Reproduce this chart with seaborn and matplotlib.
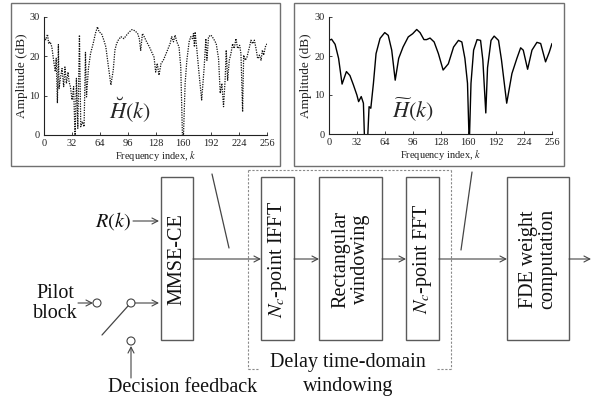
import matplotlib
matplotlib.use('Agg')
import matplotlib.pyplot as plt
import seaborn as sns
import pandas as pd
from matplotlib.patches import Rectangle, Circle

# ---------------- data ----------------
k_breve = [0, 2, 4, 5.4, 7, 9, 11.5, 13, 14, 15.4,
           16.5, 17.3, 18.8, 20.7, 22.6, 24, 25.7, 27.6, 28.8, 30.3,
           32.2, 34, 35.7, 37.2, 38.8, 40.7, 42.2, 44, 46, 47.6,
           48.8, 51, 53.4, 56.4, 59, 61.4, 63.3, 66, 68.7, 71,
           73.7, 76.8, 79.5, 81.4, 83.3, 85.2, 88.3, 91.7, 94.8, 97.9,
           101, 104.4, 107.5, 109.4, 111, 113, 115, 117.8, 121, 123.6,
           126.3, 128.2, 130, 132, 134.4, 137, 140.9, 144.7, 146.6, 148.6,
           150.5, 152.4, 155, 157, 159, 160, 162, 164, 166.6, 168.5,
           170.4, 171.6, 172.7, 173.5, 175.4, 178, 181, 183.9, 185.8, 187,
           188.9, 191.6, 194.6, 197.7, 200.4, 202.3, 204.2, 206.1, 208, 209.2,
           210.8, 212.7, 214.6, 216.5, 218.4, 220.3, 222.3, 224.6, 226.1, 228,
           229.2, 231.1, 233, 235.9, 237.6, 239.5, 241.5, 243.4, 245.3, 247.3,
           249.2, 250.7, 252.2, 254.1, 256]
db_breve = [25, 24.2, 25.6, 23.2, 23.7, 22.4, 18.2, 16.1, 19.5, 8.1,
            23, 11.8, 14.4, 16.9, 12.3, 17.3, 13.1, 16, 13.5, 12.3,
            8.9, 12.3, -1, 14.4, 1.7, 25.4, 2.1, 3.4, 2.1, 21,
            9.7, 16.9, 20.7, 23.2, 25.8, 27.5, 26.2, 25.8, 24.1, 22.4,
            17.8, 12.7, 16.5, 21.6, 23.2, 24.1, 25, 24.5, 25.4, 26.2,
            26.8, 26.5, 25.8, 24.5, 21.5, 25.8, 25, 23.7, 22.4, 21.1,
            19.8, 16, 18.2, 15.2, 18.2, 19, 21.1, 23.2, 25, 23.7,
            25.4, 23.7, 22.4, 17.3, -1, -1, 13.1, 19, 23.7, 25,
            24.5, 25.8, 22.4, 26.2, 21.9, 15.6, 8.9, 17.3, 24.5, 19,
            25, 25.4, 24.5, 23.2, 19.4, 10.6, 13.1, 7.2, 14.4, 21.6,
            13.9, 19, 20.7, 23.2, 22, 24.5, 22, 22.8, 20.7, 5.9,
            20.3, 19, 19.8, 22.4, 24.1, 23.2, 24.1, 22, 19.4, 20.3,
            19, 21.6, 20.3, 22.4, 23.2]

k_tilde = [0, 3, 7, 11, 15, 20, 24, 28, 32, 34,
           37, 39.5, 41, 44, 46, 48, 51, 54, 58.6, 64,
           68, 72, 76, 80, 85, 91, 96, 100.7, 104.5, 109,
           112, 116, 120.7, 125.6, 131, 137, 143, 148.6, 152.5, 156,
           159, 161, 163, 166, 170, 174, 176.6, 180, 182, 186,
           189.6, 194.6, 198, 204, 210, 215.7, 220, 223, 228, 233,
           238.7, 243, 248.6, 252.9, 256]
db_tilde = [24.0, 24.3, 23, 19.4, 12.8, 16, 15, 12.6, 10, 8.3,
            9.6, 7.9, -3, -3, 7, 6.6, 13, 20.6, 24.5, 26,
            25.3, 21.5, 13.8, 19.4, 22.3, 24.9, 25.7, 26.8, 26, 24.2,
            24.2, 24.6, 23.6, 20.6, 16.4, 18, 22.3, 24, 23.6, 19.4,
            13, -3, 13, 21.5, 24.2, 24, 19, 5.4, 17, 24,
            25.1, 24, 19, 7.9, 15.5, 19.4, 22.1, 21.5, 16.6, 21.5,
            23.5, 23.2, 18.5, 21, 23.2]

x_ticks = [0, 32, 64, 96, 128, 160, 192, 224, 256]
y_ticks = [0, 10, 20, 30]

# ---------------- style ----------------
sns.set_theme(style='white')
plt.rcParams['font.family'] = ['Liberation Serif', 'DejaVu Serif']
plt.rcParams['mathtext.fontset'] = 'stix'

W, H = 592, 397
fig = plt.figure(figsize=(W / 100, H / 100), dpi=100)
bg = fig.add_axes([0, 0, 1, 1])
bg.set_xlim(0, W)
bg.set_ylim(H, 0)
bg.axis('off')

LC = '#454545'
BC = '#5a5a5a'


def inset(x0, x1, y0, y1):
    return fig.add_axes([x0 / W, 1 - y1 / H, (x1 - x0) / W, (y1 - y0) / H])


def style_inset(ax):
    ax.set_xlim(0, 256)
    ax.set_ylim(0, 30)
    ax.set_xticks(x_ticks)
    ax.set_yticks(y_ticks)
    ax.set_xticklabels([str(t) for t in x_ticks])
    ax.set_yticklabels([str(t) for t in y_ticks])
    for s in ['top', 'right']:
        ax.spines[s].set_visible(False)
    for s in ['left', 'bottom']:
        ax.spines[s].set_color('#222222')
        ax.spines[s].set_linewidth(0.8)
    ax.tick_params(direction='in', length=2.5, width=0.6, labelsize=7.5,
                   pad=3, colors='#222222', left=True, bottom=True)
    ax.set_xlabel(r'Frequency index, $k$', fontsize=7.5, labelpad=0.5,
                  color='#222222')
    ax.set_ylabel('Amplitude (dB)', fontsize=9.5, labelpad=1.5, color='#222222')
    ax.patch.set_alpha(0)


axL = inset(44, 267, 17, 135)
df_b = pd.DataFrame({'k': k_breve, 'dB': db_breve})
sns.lineplot(data=df_b, x='k', y='dB', ax=axL, color='#111111',
             linestyle=(0, (1, 1)), linewidth=0.9, estimator=None, sort=False)
style_inset(axL)
axL.text(98.7, 6.4, r'$\breve{H}(k)$', fontsize=16, ha='center', va='center')

axR = inset(329, 552, 17, 134)
df_t = pd.DataFrame({'k': k_tilde, 'dB': db_tilde})
sns.lineplot(data=df_t, x='k', y='dB', ax=axR, color='black', linestyle='-',
             linewidth=1.0, estimator=None, sort=False)
style_inset(axR)
axR.text(96.4, 6.2, r'$\widetilde{H}(k)$', fontsize=16, ha='center', va='center')

# inset frames
bg.add_patch(Rectangle((11, 3), 269, 163, fill=False, ec='#707070', lw=1))
bg.add_patch(Rectangle((294, 3), 270, 163, fill=False, ec='#707070', lw=1))

# leader lines
bg.plot([212, 229], [174, 248], color=LC, lw=0.9)
bg.plot([472, 461], [172, 250], color=LC, lw=0.9)

# dotted group box
dk = dict(color='#8a8a8a', lw=0.8, linestyle=(0, (2, 1.5)))
bg.plot([248, 451], [170, 170], **dk)
bg.plot([248, 248], [170, 369], **dk)
bg.plot([451, 451], [170, 369], **dk)
bg.plot([248, 258], [369, 369], **dk)
bg.plot([437, 451], [369, 369], **dk)

# blocks
blocks = [(161, 193, 'MMSE-CE'),
          (261, 294, r'$N_c$-point IFFT'),
          (319, 382, 'Rectangular\nwindowing'),
          (406, 439, r'$N_c$-point FFT'),
          (507, 569, 'FDE weight\ncomputation')]
for x0, x1, lab in blocks:
    bg.add_patch(Rectangle((x0, 177), x1 - x0, 163, fill=False, ec=BC, lw=1))
    bg.text((x0 + x1) / 2, 259, lab, rotation=90, ha='center', va='center',
            fontsize=14.5, linespacing=1.0, color='#111111')


def arrow(x0, y0, x1, y1):
    bg.annotate('', xy=(x1, y1), xytext=(x0, y0),
                arrowprops=dict(arrowstyle='->,head_length=0.35,head_width=0.18',
                                color=LC, lw=0.8, shrinkA=0, shrinkB=0))


arrow(193, 259, 261, 259)
arrow(294, 259, 319, 259)
arrow(382, 259, 406, 259)
arrow(439, 259, 507, 259)
arrow(569, 259, 591, 259)
arrow(133, 221, 159, 221)
arrow(78, 303, 93, 303)
arrow(135, 303, 159, 303)
arrow(131, 378, 131, 346)

for cx, cy in [(97, 303), (131, 303), (131, 341)]:
    bg.add_patch(Circle((cx, cy), 4, fill=False, ec=LC, lw=0.8))
bg.plot([102, 128], [335, 306], color=LC, lw=0.9)

tk = dict(fontsize=14.5, ha='center', va='center', color='#111111')
bg.text(113, 221, r'$R(k)$', **tk)
bg.text(55, 293, 'Pilot', **tk)
bg.text(55, 314, 'block', **tk)
bg.text(183, 387, 'Decision feedback', **tk)
bg.text(348, 363, 'Delay time-domain', **tk)
bg.text(348, 386, 'windowing', **tk)

fig.savefig('out.png', dpi=100)
